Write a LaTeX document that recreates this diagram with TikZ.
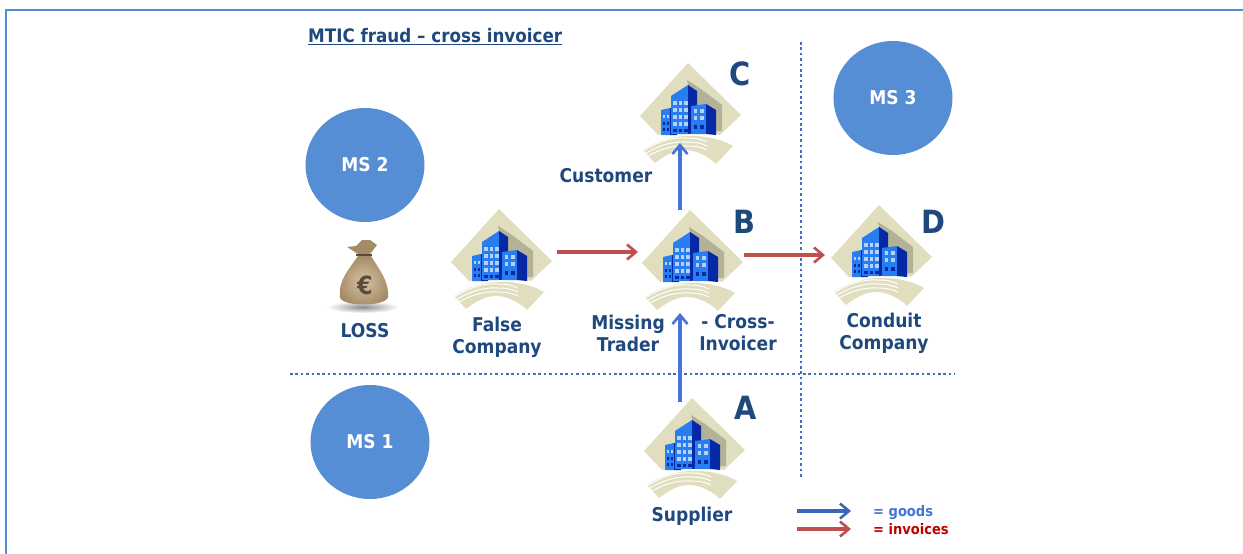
\documentclass[tikz,border=0pt]{standalone}
\usepackage{fontspec}
\setmainfont{DejaVu Sans}[FakeStretch=0.9]
\usetikzlibrary{arrows.meta, shapes.geometric}

\definecolor{framecolor}{RGB}{84, 141, 212}
\definecolor{circlecolor}{RGB}{85, 142, 213}
\definecolor{textblue}{RGB}{31, 73, 125}
\definecolor{goodsblue}{RGB}{70, 115, 215}
\definecolor{invoicered}{RGB}{192, 80, 77}
\definecolor{diamondtan}{RGB}{224, 222, 190}
\definecolor{towerblue}{RGB}{40, 125, 240}
\definecolor{towerdark}{RGB}{5, 40, 165}
\definecolor{bagtan}{RGB}{215, 195, 160}
\definecolor{bagedge}{RGB}{165, 140, 105}
\definecolor{bagdark}{RGB}{90, 75, 60}

\tikzset{
    msnode/.style={ellipse, fill=circlecolor, minimum width=119pt, minimum height=114pt, inner sep=0pt, text=white, font=\bfseries\fontsize{19}{19}\selectfont},
    lbl/.style={text=textblue, font=\bfseries\fontsize{19}{22}\selectfont, align=center, inner sep=0pt},
    letter/.style={text=textblue, font=\bfseries\fontsize{32}{32}\selectfont, inner sep=0pt},
    goods/.style={draw=goodsblue, line width=3.2pt, -{Straight Barb[length=9pt,width=15pt,line width=2.6pt]}},
    invoice/.style={draw=invoicered, line width=3.2pt, -{Straight Barb[length=9pt,width=15pt,line width=2.6pt]}},
    divider/.style={draw=goodsblue!85!textblue, line width=2.4pt, dash pattern=on 2.6pt off 2.8pt},
    pics/office/.style={code={
        % diamond, cut off by an arc at the foot
        \fill[diamondtan] (-1,-50) -- (52,2) -- (31,22) .. controls (10,17) and (-10,17) .. (-31,22) -- (-49,3) -- cycle;
        \fill[diamondtan!80!black] (-2,-33) -- (12,-24) -- (33,-8) -- (33,18) -- (9,18) -- cycle;
        % swoosh
        \fill[diamondtan] (-46,37) .. controls (-32,28) and (-18,24) .. (-4,23) .. controls (14,22) and (32,26) .. (44,33) -- (27,51) .. controls (18,42) and (6,37) .. (-4,37) .. controls (-16,37) and (-26,44) .. (-34,50) -- cycle;
        \foreach \off in {2,6,10}
            \draw[white, line width=1pt] (-46,36+\off) .. controls (-30,26+\off) and (-16,22+\off) .. (-2,23+\off) .. controls (6,23+\off) and (12,24+\off) .. (18,27+\off);
        % towers
        \fill[towerblue] (-28,-3) -- (-19,-5) -- (-19,22) -- (-28,22) -- cycle;
        \fill[towerdark] (-19,-5) -- (-12,-3) -- (-12,22) -- (-19,22) -- cycle;
        \fill[towerblue] (-18,-17) -- (-1,-28) -- (-1,21) -- (-18,21) -- cycle;
        \fill[towerdark] (-1,-28) -- (8,-22) -- (8,20) -- (-1,21) -- cycle;
        \fill[towerblue] (2,-7) -- (17,-9) -- (17,21) -- (2,21) -- cycle;
        \fill[towerdark] (17,-9) -- (27,-3) -- (27,22) -- (17,21) -- cycle;
        % windows
        \foreach \wx in {-16,-10.5,-5} \foreach \wy in {-12,-5,2,9}
            \fill[white!65!towerblue] (\wx,\wy) rectangle ++(3.5,4);
        \foreach \wx in {-16,-10.5,-5}
            \fill[towerdark] (\wx,16) rectangle ++(3.5,3);
        \foreach \wx in {4.5,11} \foreach \wy in {-4,3}
            \fill[white!65!towerblue] (\wx,\wy) rectangle ++(3.5,4);
        \foreach \wx in {4.5,11}
            \fill[towerdark] (\wx,12) rectangle ++(3.5,4);
        \foreach \wx in {-26.5,-22.5}
            \fill[white!65!towerblue] (\wx,2) rectangle ++(2.5,3);
        \foreach \wx in {-26.5,-22.5} \foreach \wy in {9,15}
            \fill[towerdark] (\wx,\wy) rectangle ++(2.5,3);
    }},
}

\begin{document}
\begin{tikzpicture}[x=1pt, y=-1pt]
    \useasboundingbox (0,0) rectangle (1243,554);

    % Frame
    \draw[framecolor, line width=2pt] (6,554) -- (6,9.5) -- (1243,9.5);

    % Title
    \node[lbl, anchor=west, font=\bfseries\fontsize{18.6}{20}\selectfont] (title) at (308,37) {\underline{MTIC fraud -- cross invoicer}};

    % Member states
    \node[msnode] (ms1) at (370,442) {MS 1};
    \node[msnode] (ms2) at (365,165) {MS 2};
    \node[msnode] (ms3) at (893,98) {MS 3};

    % Dividers
    \coordinate (h1) at (290,374);
    \coordinate (h2) at (955,374);
    \coordinate (v1) at (801,42);
    \coordinate (v2) at (801,478);
    \draw[divider] (h1) -- (h2);
    \draw[divider] (v1) -- (v2);

    % Buildings
    \coordinate (falseco) at (500,259);
    \coordinate (bldgA) at (693,448);
    \coordinate (bldgB) at (691,260);
    \coordinate (bldgC) at (689,113);
    \coordinate (bldgD) at (880,255);
    \foreach \place in {falseco,bldgA,bldgB,bldgC,bldgD}
        \pic at (\place) {office};

    % Letters
    \node[letter] (letA) at (746,408) {A};
    \node[letter] (letB) at (744,222) {B};
    \node[letter] (letC) at (740,74) {C};
    \node[letter] (letD) at (933,222) {D};

    % Labels
    \node[lbl] (supplier) at (692,516) {Supplier};
    \node[lbl] (customer) at (606,176) {Customer};
    \node[lbl] (falselbl) at (497,337) {False\\Company};
    \node[lbl] (missing) at (628,333) {Missing\\Trader};
    \node[lbl] (cross) at (738,333) {- Cross-\\Invoicer};
    \node[lbl] (conduit) at (884,333) {Conduit\\Company};
    \node[lbl] (loss) at (365,331) {LOSS};

    % Money bag
    \shade[inner color=black!45, outer color=white] (363,307) ellipse (36 and 6);
    \shade[inner color=bagtan, outer color=bagedge] (358,256) .. controls (350,268) and (338,280) .. (340,297) .. controls (341,307) and (386,307) .. (388,297) .. controls (389,280) and (378,268) .. (371,256) -- cycle;
    \fill[bagedge] (347,247) -- (356,246) -- (362,240) -- (370,240) -- (377,245) -- (370,254) -- (358,254) -- cycle;
    \draw[bagdark, line width=2.5pt] (356,255) -- (372,255);
    \node[text=bagdark, font=\bfseries\fontsize{25}{25}\selectfont, inner sep=0pt] (euro) at (365,285) {€};

    % Arrows
    \coordinate (arrA) at (680,402);
    \coordinate (arrB) at (680,313);
    \coordinate (arrC) at (680,210);
    \coordinate (arrD) at (680,143);
    \coordinate (arrE) at (557,252);
    \coordinate (arrF) at (638,252);
    \coordinate (arrG) at (744,255);
    \coordinate (arrH) at (825,255);
    \draw[goods] (arrA) -- (arrB);
    \draw[goods] (arrC) -- (arrD);
    \draw[invoice] (arrE) -- (arrF);
    \draw[invoice] (arrG) -- (arrH);

    % Legend
    \coordinate (keyA) at (797,511);
    \coordinate (keyB) at (851,511);
    \coordinate (keyC) at (797,529);
    \coordinate (keyD) at (851,529);
    \draw[goods, draw=goodsblue!70!textblue] (keyA) -- (keyB);
    \draw[invoice] (keyC) -- (keyD);
    \node[anchor=west, inner sep=0pt, text=goodsblue, font=\bfseries\fontsize{14.5}{15}\selectfont] (goodskey) at (873,513) {= goods};
    \node[anchor=west, inner sep=0pt, text=red!75!black, font=\bfseries\fontsize{14.5}{15}\selectfont] (invkey) at (873,529) {= invoices};
\end{tikzpicture}
\end{document}
